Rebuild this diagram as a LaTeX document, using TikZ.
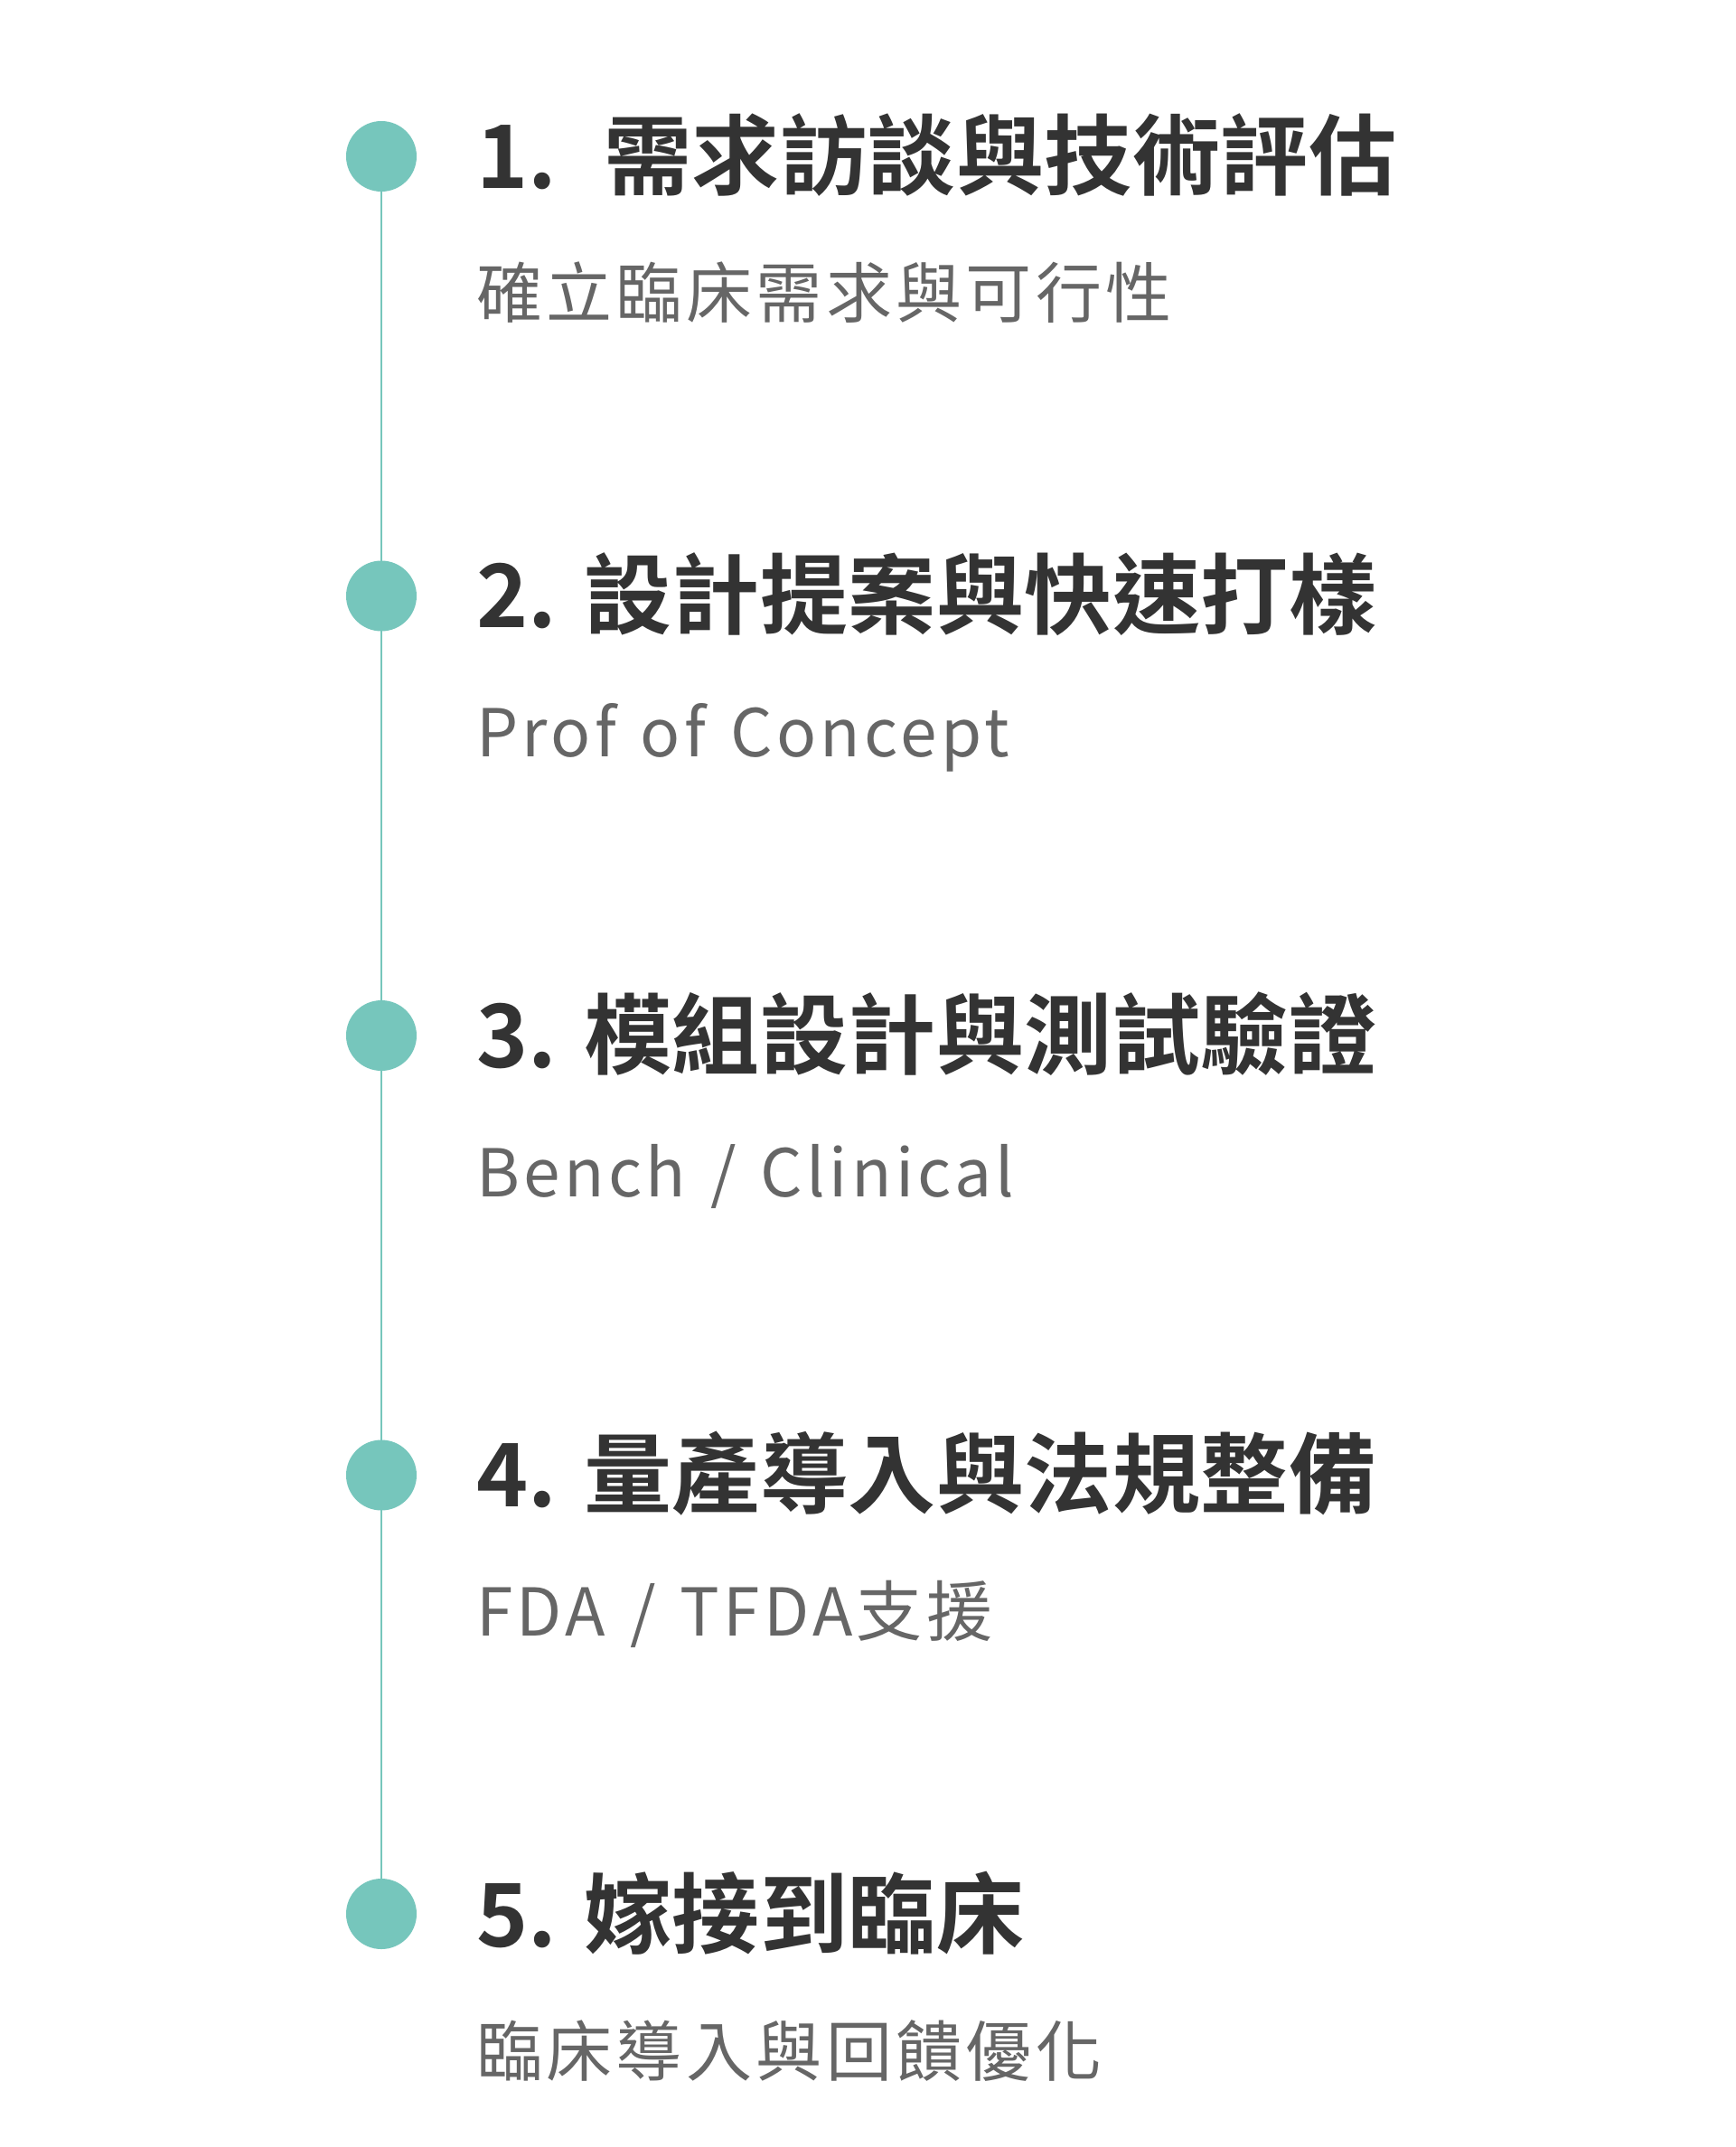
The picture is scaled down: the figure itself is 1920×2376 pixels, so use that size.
\documentclass[tikz,border=0pt]{standalone}
\usepackage{fontspec}
\newfontfamily\cjktitle{Noto Sans CJK TC Bold}[LetterSpace=0.5]
\newfontfamily\cjksub{Noto Sans CJK TC}[LetterSpace=6,WordSpace=1.3]
\definecolor{teal1}{HTML}{76C6BC}
\definecolor{titlec}{HTML}{333333}
\definecolor{subc}{HTML}{666666}
\tikzset{
  x=1pt, y=-1pt,
  dot/.style={circle, fill=teal1, draw=none, minimum size=78pt, inner sep=0pt},
  title/.style={anchor=base west, inner sep=0pt, text=titlec, font=\cjktitle\fontsize{97}{97}\selectfont},
  subtitle/.style={anchor=base west, inner sep=0pt, text=subc, font=\cjksub\fontsize{73}{73}\selectfont},
  spine/.style={draw=teal1, line width=2pt}
}
\begin{document}
\begin{tikzpicture}
\useasboundingbox[fill=white] (0,0) rectangle (1920,2376);
\draw[spine] (422,173) -- (422,2118);
\node[dot] (c1) at (422,173) {};
\node[dot] (c2) at (422,659.5) {};
\node[dot] (c3) at (422,1146) {};
\node[dot] (c4) at (422,1632.5) {};
\node[dot] (c5) at (422,2118) {};
\node[title] (t1) at (527,208) {1.\ \ \hspace{7pt}需求訪談與技術評估};
\node[subtitle] (s1) at (527,351) {確立臨床需求與可行性};
\node[title] (t2) at (527,694.5) {2. 設計提案與快速打樣};
\node[subtitle] (s2) at (527,837.5) {Prof of Concept};
\node[title] (t3) at (527,1181) {3. 模組設計與測試驗證};
\node[subtitle] (s3) at (527,1324) {Bench / Clinical};
\node[title] (t4) at (527,1667.5) {4. 量產導入與法規整備};
\node[subtitle] (s4) at (527,1810.5) {FDA / TFDA支援};
\node[title] (t5) at (527,2154) {5. 嫁接到臨床};
\node[subtitle] (s5) at (527,2297) {臨床導入與回饋優化};
\end{tikzpicture}
\end{document}
